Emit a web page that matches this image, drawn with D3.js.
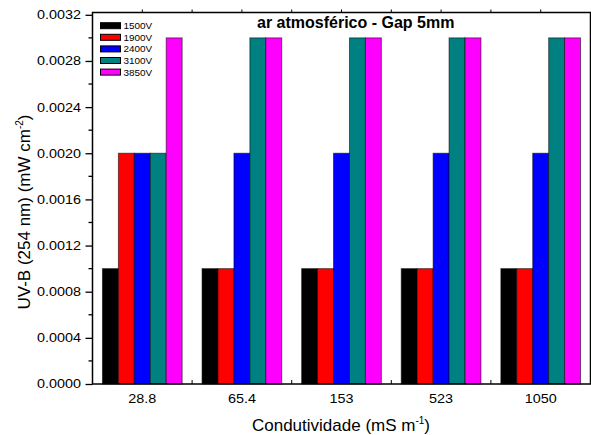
<!DOCTYPE html>
<html>
<head>
<meta charset="utf-8">
<script src="https://cdn.jsdelivr.net/npm/d3@7"></script>
<style>
  html, body { margin: 0; padding: 0; background: #fff; }
  svg { display: block; font-family: "Liberation Sans", Arial, sans-serif; }
</style>
</head>
<body>
<svg id="chart" width="591" height="435"></svg>
<script>
// Conductivity categories (mS m^-1)
const categories = ["28.8", "65.4", "153", "523", "1050"];
// Applied voltage series
const seriesNames = ["1500V", "1900V", "2400V", "3100V", "3850V"];
const seriesColors = ["#000000", "#ff0000", "#0000ff", "#008080", "#ff00ff"];
// UV-B irradiance (mW cm^-2), one array per voltage, ordered by category
const v1500 = [0.001, 0.001, 0.001, 0.001, 0.001];
const v1900 = [0.002, 0.001, 0.001, 0.001, 0.001];
const v2400 = [0.002, 0.002, 0.002, 0.002, 0.002];
const v3100 = [0.002, 0.003, 0.003, 0.003, 0.003];
const v3850 = [0.003, 0.003, 0.003, 0.003, 0.003];
const yTicks = [0, 0.0004, 0.0008, 0.0012, 0.0016, 0.0020, 0.0024, 0.0028, 0.0032];

const seriesValues = [v1500, v1900, v2400, v3100, v3850];

const svg = d3.select("#chart");
const plotLeft = 92.5, plotRight = 590.5, plotTop = 12.5, plotBottom = 384;
const STRETCH = 1.18; // horizontal glyph stretch for tick text

const x = d3.scaleBand().domain(categories).range([plotLeft, plotRight])
  .paddingInner(0.2).paddingOuter(0.1);
const xs = d3.scaleBand().domain(seriesNames).range([0, x.bandwidth()]);
const y = d3.scaleLinear().domain([0, 0.00322]).range([plotBottom, plotTop]);

// Bars
const groups = svg.append("g").selectAll("g")
  .data(categories)
  .join("g")
  .attr("transform", d => `translate(${x(d)},0)`);

groups.selectAll("rect")
  .data((c, ci) => seriesNames.map((s, si) => ({ s, si, v: seriesValues[si][ci] })))
  .join("rect")
  .attr("x", d => xs(d.s))
  .attr("y", d => y(d.v))
  .attr("width", xs.bandwidth())
  .attr("height", d => y(0) - y(d.v))
  .attr("fill", d => seriesColors[d.si])
  .attr("stroke", "#000")
  .attr("stroke-opacity", 0.55)
  .attr("stroke-width", 1);

// Left axis with major + minor ticks
const yAxis = svg.append("g").attr("transform", `translate(${plotLeft},0)`)
  .call(d3.axisLeft(y).tickValues(yTicks).tickSize(7).tickSizeOuter(0)
    .tickFormat(d3.format(".4f")));
yAxis.select(".domain").remove();
yAxis.selectAll(".tick line").attr("stroke-width", 1.3);
yAxis.selectAll(".tick text")
  .attr("font-size", 12.2)
  .attr("font-family", "'Liberation Sans', Arial, sans-serif")
  .attr("fill", "#000")
  .attr("x", -11.5 / STRETCH)
  .attr("transform", `scale(${STRETCH},1)`);

const minor = d3.range(0.0002, 0.0032, 0.0004);
svg.append("g").selectAll("line").data(minor).join("line")
  .attr("x1", plotLeft - 4).attr("x2", plotLeft)
  .attr("y1", d => y(d)).attr("y2", d => y(d))
  .attr("stroke", "#000").attr("stroke-width", 1.3);

// Bottom axis: category labels
const xAxis = svg.append("g").attr("transform", `translate(0,${plotBottom})`)
  .call(d3.axisBottom(x).tickSize(0).tickPadding(0));
xAxis.select(".domain").remove();
xAxis.selectAll(".tick text")
  .attr("font-size", 12.2)
  .attr("font-family", "'Liberation Sans', Arial, sans-serif")
  .attr("fill", "#000")
  .attr("dy", null)
  .attr("y", 19)
  .attr("transform", `scale(${STRETCH},1)`);

// Small ticks between categories (bottom, inward) and along the top
const mids = categories.slice(1).map(c => x(c) - x.step() * x.paddingInner() / 2);
svg.append("g").selectAll("line").data(mids).join("line")
  .attr("x1", d => d).attr("x2", d => d)
  .attr("y1", plotBottom).attr("y2", plotBottom - 4)
  .attr("stroke", "#000").attr("stroke-width", 1);
const topTicks = categories.map(c => x(c) + x.bandwidth() / 2).concat(mids);
svg.append("g").selectAll("line").data(topTicks).join("line")
  .attr("x1", d => d).attr("x2", d => d)
  .attr("y1", plotTop).attr("y2", plotTop - 3)
  .attr("stroke", "#000").attr("stroke-width", 1);

// Frame
svg.append("rect")
  .attr("x", plotLeft).attr("y", plotTop)
  .attr("width", plotRight - plotLeft).attr("height", plotBottom - plotTop)
  .attr("fill", "none").attr("stroke", "#000").attr("stroke-width", 1.5);

// Title
svg.append("text")
  .attr("x", 257).attr("y", 27.5)
  .attr("font-size", 16).attr("font-weight", "bold")
  .text("ar atmosférico - Gap 5mm");

// Legend
const legend = svg.append("g").selectAll("g")
  .data(seriesNames)
  .join("g")
  .attr("transform", (d, i) => `translate(100.5,${22.7 + i * 11.6})`);
legend.append("rect")
  .attr("width", 20).attr("height", 6)
  .attr("fill", (d, i) => seriesColors[i])
  .attr("stroke", "#000").attr("stroke-width", 1);
legend.append("text")
  .attr("x", 23 / 1.08).attr("y", 6.5)
  .attr("font-size", 9.2)
  .attr("transform", "scale(1.08,1)")
  .text(d => d);

// Axis titles
const xt = svg.append("text")
  .attr("x", 341).attr("y", 431)
  .attr("text-anchor", "middle")
  .attr("font-size", 17);
xt.append("tspan").text("Condutividade (mS m");
xt.append("tspan").attr("font-size", 10).attr("dy", -7).text("-1");
xt.append("tspan").attr("dy", 7).text(")");

const yt = svg.append("text")
  .attr("transform", "translate(29.5,212) rotate(-90)")
  .attr("text-anchor", "middle")
  .attr("font-size", 17);
yt.append("tspan").text("UV-B (254 nm) (mW cm");
yt.append("tspan").attr("font-size", 10).attr("dy", -7).text("-2");
yt.append("tspan").attr("dy", 7).text(")");
</script>
</body>
</html>
